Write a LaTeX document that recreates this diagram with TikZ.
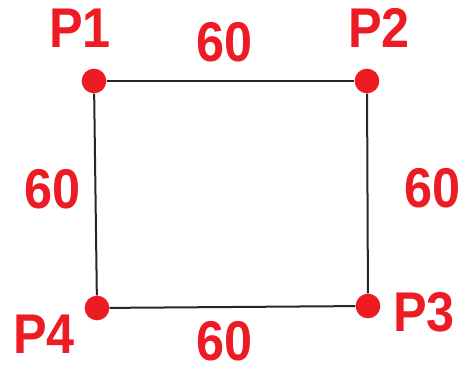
\documentclass[tikz,border=0pt]{standalone}
\usepackage{fontspec}
\newfontfamily\lblfont[FakeStretch=0.9]{Liberation Sans}
\usetikzlibrary{positioning}
\definecolor{ptred}{HTML}{ED1C24}

\begin{document}
\begin{tikzpicture}[x=0.75pt,y=-0.75pt,
    dot/.style={circle,fill=ptred,inner sep=0pt,minimum size=18.5pt},
    lbl/.style={text=ptred,inner sep=0pt,font=\lblfont\bfseries\fontsize{42}{42}\selectfont},
    edge/.style={draw=black!85,line width=1.5pt}]
  \useasboundingbox (0,0) rectangle (469,370);
  % corners
  \node[dot] (p1) at (94,81) {};
  \node[dot] (p2) at (367,81) {};
  \node[dot] (p3) at (368,306) {};
  \node[dot] (p4) at (97,308) {};
  \draw[edge] (p1) -- (p2);
  \draw[edge] (p2) -- (p3);
  \draw[edge] (p3) -- (p4);
  \draw[edge] (p4) -- (p1);
  % names
  \node[lbl] (n1) at (80,28) {P1};
  \node[lbl] (n2) at (379,28) {P2};
  \node[lbl] (n3) at (424,312) {P3};
  \node[lbl] (n4) at (44,334) {P4};
  % lengths
  \node[lbl] (top) at (225,42) {60};
  \node[lbl] (right) at (433,188) {60};
  \node[lbl] (bottom) at (225,341) {60};
  \node[lbl] (left) at (53,189) {60};
\end{tikzpicture}
\end{document}
